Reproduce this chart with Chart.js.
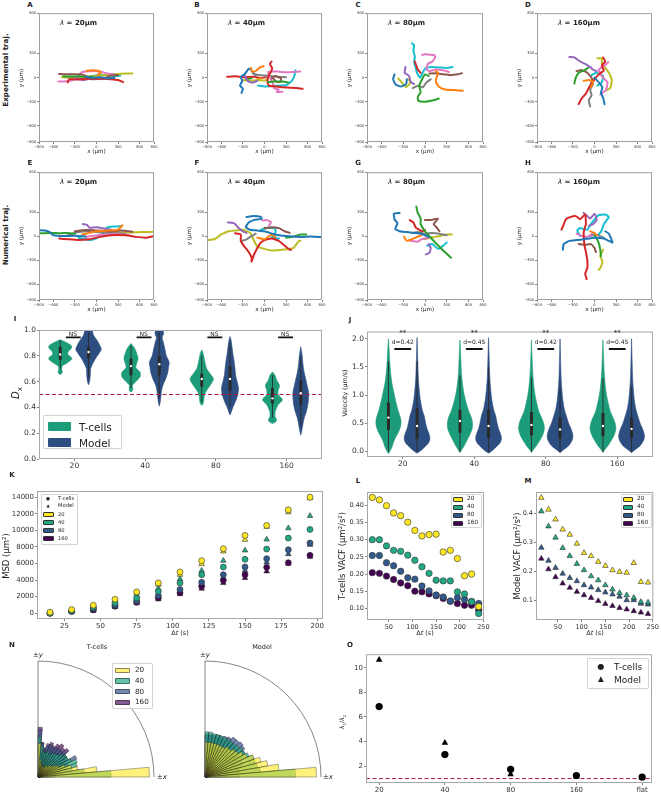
<!DOCTYPE html>
<html>
<head>
<meta charset="utf-8">
<script src="https://cdn.jsdelivr.net/npm/chart.js@4.4.1/dist/chart.umd.min.js"></script>
<style>
body { margin: 0; width: 661px; height: 792px; overflow: hidden; background: #fff; position: relative; font-family: 'DejaVu Sans', sans-serif; color: #222; }
.c { position: absolute; }
.t { position: absolute; white-space: nowrap; line-height: 1; }
</style>
</head>
<body>
<script>
// ---- trajectories (um), one list per panel, colours follow tab10 order ----
const trajXTicks = [-800, -600, -300, 0, 300, 600, 800];
const trajYTicks = [-800, -600, -300, 0, 300, 800];

const trajA = [
  [[-150,10],[-50,-5],[60,5],[150,-10],[250,-5]],
  [[-140,85],[-60,90],[40,80],[60,60],[20,40]],
  [[-460,15],[-350,12],[-230,18],[-150,5],[-60,15]],
  [[-400,-60],[-380,-20],[-250,-25],[-100,-15],[50,-10],[200,-20],[300,-30],[370,-55]],
  [[-280,-5],[-180,-30],[-80,-10],[20,0],[80,-20]],
  [[-520,45],[-420,40],[-300,42],[-200,38],[-150,20],[-60,-15],[100,-10],[200,25],[300,30]],
  [[-530,-50],[-420,-45],[-330,-30],[-250,30],[-200,70],[-80,80],[50,75],[150,50],[250,40]],
  [[-350,-15],[-200,-10],[-50,-20],[100,-15],[200,-5]],
  [[-480,5],[-350,0],[-200,10],[0,20],[150,35],[300,45],[400,50],[500,52]],
  [[-50,20],[50,35],[150,30],[250,20],[330,25]]
];
const trajB = [
  [[-320,-190],[-300,-140],[-340,-100],[-310,-40],[-330,10],[-280,40],[-220,110]],
  [[-190,120],[-170,70],[-110,90],[-60,130],[-10,140]],
  [[50,-55],[150,-50],[250,-50],[330,-60]],
  [[100,200],[75,170],[105,120],[90,70],[60,30],[40,-50],[60,-100],[150,-110],[250,-120],[350,-125],[450,-130],[530,-140]],
  [[-280,40],[-260,-10],[-220,-50],[-150,-60],[-100,-40]],
  [[100,-10],[150,20],[230,-10],[220,-55],[160,-50],[130,-20]],
  [[500,75],[400,70],[300,65],[180,75],[50,70],[80,0],[120,-80],[130,-130],[200,-150],[170,-180],[250,-175]],
  [[-150,40],[-50,30],[80,20],[200,10],[300,5]],
  [[-300,-30],[-200,-40],[-100,-30],[0,-35],[50,-20]],
  [[-90,-100],[0,-110],[100,-105],[200,-100],[300,-95],[380,-40],[415,20],[430,90]],
  [[-200,110],[-160,60],[-120,30]],
  [[-100,-20],[-40,-10]],
  [[-250,-20],[-180,-10]],
  [[-520,10],[-400,15],[-300,5],[-150,10],[-50,-5],[20,5]]
];
const trajC = [
  [[-250,-20],[-260,-80],[-330,-110],[-400,-90],[-440,-20],[-420,40]],
  [[150,80],[180,60],[150,-30],[170,-90],[220,-130],[300,-150],[400,-155],[520,-165]],
  [[190,-260],[100,-285],[0,-300],[-90,-290],[-100,-240],[-60,-180],[-80,-100],[-40,-20],[0,40],[50,20]],
  [[-140,200],[-120,150],[-100,100],[-60,60]],
  [[-270,130],[-280,60],[-220,20],[-200,-50],[-150,-80]],
  [[60,50],[150,55],[250,40],[350,30],[450,40],[510,55]],
  [[-40,280],[0,290],[60,285],[130,280],[140,250],[100,200],[40,170],[20,100],[60,80],[150,100],[250,90],[330,70]],
  [[-170,-130],[-100,-100],[-30,-120],[20,-60],[80,-20]],
  [[-370,-10],[-320,-60],[-260,-120],[-200,-60],[-230,-20]],
  [[-180,425],[-150,400],[-160,330],[-140,260],[-150,190],[-130,130],[-110,60],[-70,0],[0,110],[100,130],[200,125],[300,120],[380,130]]
];
const trajD = [
  [[140,-330],[120,-250],[90,-190],[110,-120],[60,-60],[0,0]],
  [[-150,-40],[-80,-30],[-20,-50],[-50,-120]],
  [[-280,-75],[-260,0],[-220,60],[-140,90],[-90,120]],
  [[-220,-330],[-180,-260],[-120,-200],[-80,-130],[-40,-80],[0,-20],[60,40],[130,90],[100,150],[150,200],[120,250]],
  [[-350,255],[-280,250],[-200,200],[-130,170],[-60,130],[-20,100],[30,80]],
  [[-250,80],[-180,95],[-100,60],[-30,-20],[-60,-100]],
  [[190,190],[140,150],[60,100],[100,20],[180,-60],[160,-150],[80,-210]],
  [[-60,-360],[-80,-280],[-40,-220],[-60,-150],[-20,-80]],
  [[40,240],[110,235],[100,180],[150,120],[200,60],[240,-30],[220,-130],[160,-160]],
  [[-40,30],[20,60],[120,20],[100,-60],[40,-100]]
];
const trajE = [
  [[-800,75],[-720,70],[-650,50],[-600,10],[-450,0],[-300,5],[-150,-5]],
  [[-200,20],[-100,40],[0,60],[150,70],[300,80],[360,135]],
  [[-780,35],[-650,40],[-500,35],[-400,40],[-300,30]],
  [[-520,-30],[-400,-40],[-250,-50],[-100,-40],[50,-10],[200,10],[400,10],[550,-10],[680,-20],[800,0]],
  [[-190,150],[-130,140],[-100,105],[0,110],[100,95],[200,80]],
  [[-300,60],[-150,75],[0,70],[200,60],[350,70],[500,55]],
  [[-150,-10],[0,10],[150,20],[300,25],[450,15]],
  [[-400,10],[-250,50],[-100,60],[50,45],[200,40],[400,30]],
  [[50,55],[250,50],[450,45],[650,50],[800,55]],
  [[-250,-20],[-100,-50],[0,-30],[100,40],[150,110],[250,120],[350,125]]
];
const trajF = [
  [[800,-15],[650,-5],[500,-10],[300,0],[150,20],[0,60],[-100,70],[-200,80],[-260,110],[-220,170],[-150,200],[-40,215],[-50,240],[-150,250],[-250,240]],
  [[-100,-20],[0,-40],[100,20],[150,-10]],
  [[300,-20],[400,-10],[500,20],[580,20]],
  [[-410,35],[-330,20],[-330,-60],[-280,-130],[-220,-200],[-180,-270],[-180,-320],[-150,-240],[-100,-150],[-60,-90],[0,-50],[100,-30],[200,-60],[280,-120],[350,-170],[370,-170]],
  [[-510,170],[-420,160],[-360,100],[-300,60],[-250,40]],
  [[0,100],[100,110],[200,100],[280,60],[350,40]],
  [[-30,195],[40,200],[90,170],[60,130]],
  [[-310,-60],[-250,-40],[-200,-10],[-120,30]],
  [[-800,-50],[-700,-40],[-600,20],[-500,60],[-400,70],[-300,80],[-200,40],[-150,-50],[-100,-130],[0,-160],[100,-180],[250,-170],[400,-150],[480,-60],[500,-60]],
  [[-50,80],[50,100],[150,95],[150,40],[100,-20],[200,-30]]
];
const trajG = [
  [[-350,290],[-430,280],[-420,210],[-380,160],[-410,90],[-350,60],[-250,50],[-150,40],[-50,30],[50,-10]],
  [[-290,-10],[-250,-60],[-180,-40],[-130,-20],[-50,10]],
  [[-120,370],[-100,290],[-60,220],[-60,150],[0,60],[60,0],[150,-90],[250,-180],[360,-270]],
  [[-210,200],[-160,170],[-130,110],[-80,80],[-40,60],[0,80]],
  [[10,-230],[60,-210],[80,-150],[50,-100]],
  [[0,200],[100,205],[180,220],[120,150],[160,110],[200,60]],
  [[-200,-60],[-100,-70],[-50,-40],[50,-20]],
  [[-170,40],[-100,50],[0,30],[100,40],[200,30],[300,10]],
  [[-20,-40],[80,-20],[200,0],[300,20],[370,20]],
  [[30,-120],[100,-100],[180,-160],[250,-120],[300,-80]]
];
const trajH = [
  [[-440,-170],[-430,-100],[-350,-60],[-250,-50],[-150,-40],[0,-20],[130,-30],[200,-60],[250,-80],[200,30],[150,60]],
  [[-60,60],[0,40],[30,10]],
  [[90,-250],[80,-170],[60,-90],[30,-30],[0,0]],
  [[-460,80],[-430,140],[-400,210],[-330,240],[-260,250],[-200,210],[-130,270],[-120,150],[-150,50],[-140,-110],[-120,-200],[-100,-300],[-100,-400],[-130,-470],[-110,-540]],
  [[-150,290],[-100,250],[-60,220],[0,280],[30,200],[-20,150],[-80,130]],
  [[-220,-100],[-120,-110],[-50,-100],[0,-150],[20,-200]],
  [[-250,30],[-170,0],[-100,-10],[-30,30]],
  [[-60,0],[0,20],[80,0],[130,-20]],
  [[120,-170],[80,-250],[110,-320],[80,-400],[60,-420]],
  [[-200,0],[-240,70],[-200,100],[-100,80],[-50,150],[50,260],[150,270],[200,240],[130,150],[100,70],[60,20]]
];

// ---- violins: [value, half width] from bottom to top; box: [lo, q1, median, q3, hi] ----
const groups = ['20', '40', '80', '160'];
const dxTcells = [
  [[0.655,0],[0.665,0.025],[0.68,0.03],[0.695,0.02],[0.72,0.03],[0.75,0.11],[0.78,0.165],[0.81,0.11],[0.83,0.11],[0.86,0.16],[0.88,0.155],[0.905,0.08],[0.925,0]],
  [[0.52,0],[0.53,0.02],[0.55,0.025],[0.57,0.02],[0.6,0.07],[0.64,0.13],[0.67,0.13],[0.71,0.07],[0.74,0.08],[0.78,0.1],[0.82,0.08],[0.86,0.05],[0.895,0]],
  [[0.415,0],[0.43,0.02],[0.46,0.03],[0.5,0.04],[0.54,0.08],[0.58,0.13],[0.62,0.165],[0.66,0.12],[0.7,0.07],[0.74,0.05],[0.78,0.035],[0.82,0.02],[0.845,0]],
  [[0.275,0],[0.29,0.05],[0.31,0.055],[0.33,0.035],[0.37,0.04],[0.42,0.08],[0.46,0.14],[0.5,0.08],[0.53,0.08],[0.57,0.1],[0.61,0.06],[0.65,0.035],[0.675,0]]
];
const dxModel = [
  [[0.575,0],[0.6,0.015],[0.65,0.025],[0.7,0.03],[0.74,0.06],[0.78,0.1],[0.82,0.15],[0.85,0.18],[0.88,0.16],[0.92,0.12],[0.96,0.07],[0.98,0.06],[1.0,0.05],[1.03,0]],
  [[0.41,0],[0.43,0.01],[0.47,0.02],[0.52,0.03],[0.57,0.05],[0.62,0.09],[0.67,0.12],[0.71,0.13],[0.75,0.14],[0.8,0.1],[0.85,0.08],[0.9,0.06],[0.94,0.04],[0.97,0.06],[1.0,0.05],[1.03,0]],
  [[0.34,0],[0.36,0.015],[0.4,0.04],[0.45,0.08],[0.5,0.11],[0.55,0.12],[0.6,0.1],[0.65,0.08],[0.7,0.07],[0.75,0.06],[0.8,0.045],[0.86,0.03],[0.92,0.015],[0.95,0]],
  [[0.185,0],[0.22,0.015],[0.27,0.03],[0.32,0.05],[0.37,0.08],[0.42,0.1],[0.47,0.11],[0.52,0.11],[0.57,0.09],[0.62,0.07],[0.68,0.045],[0.74,0.03],[0.8,0.02],[0.87,0]]
];
const dxTcellsBox = [[0.70,0.77,0.81,0.87,0.92],[0.55,0.65,0.72,0.78,0.88],[0.44,0.56,0.62,0.66,0.8],[0.32,0.43,0.47,0.55,0.65]];
const dxModelBox = [[0.63,0.78,0.83,0.87,0.98],[0.47,0.65,0.735,0.8,0.98],[0.4,0.53,0.62,0.72,0.9],[0.25,0.42,0.51,0.61,0.79]];
const dxChance = 0.5;
const nsLevel = 0.943;

const velTcells = [
  [[-0.04,0],[0.0,0.02],[0.08,0.05],[0.16,0.07],[0.25,0.1],[0.34,0.14],[0.45,0.17],[0.55,0.175],[0.65,0.155],[0.75,0.13],[0.9,0.1],[1.05,0.075],[1.2,0.05],[1.4,0.03],[1.6,0.018],[1.8,0.01],[2.0,0]],
  [[-0.02,0],[0.02,0.02],[0.1,0.06],[0.2,0.1],[0.3,0.14],[0.4,0.17],[0.5,0.175],[0.6,0.16],[0.72,0.12],[0.85,0.09],[1.0,0.06],[1.2,0.035],[1.4,0.02],[1.7,0.01],[1.98,0]],
  [[-0.02,0],[0.02,0.02],[0.1,0.07],[0.2,0.12],[0.3,0.16],[0.4,0.18],[0.5,0.17],[0.6,0.14],[0.72,0.1],[0.85,0.075],[1.0,0.05],[1.2,0.03],[1.4,0.018],[1.7,0.008],[1.98,0]],
  [[-0.02,0],[0.02,0.02],[0.1,0.07],[0.2,0.12],[0.3,0.16],[0.4,0.18],[0.5,0.17],[0.6,0.14],[0.72,0.1],[0.85,0.075],[1.0,0.05],[1.2,0.03],[1.4,0.018],[1.7,0.008],[1.98,0]]
];
const velModel = [
  [[-0.03,0],[0.0,0.04],[0.07,0.1],[0.15,0.16],[0.22,0.18],[0.3,0.17],[0.4,0.14],[0.5,0.12],[0.63,0.1],[0.75,0.07],[0.92,0.045],[1.1,0.03],[1.3,0.018],[1.6,0.01],[2.02,0]],
  [[-0.03,0],[0.0,0.04],[0.07,0.1],[0.15,0.16],[0.22,0.18],[0.3,0.17],[0.4,0.14],[0.5,0.12],[0.63,0.1],[0.75,0.07],[0.92,0.045],[1.1,0.03],[1.3,0.018],[1.6,0.01],[2.02,0]],
  [[-0.02,0],[0.02,0.04],[0.1,0.12],[0.2,0.17],[0.28,0.18],[0.38,0.16],[0.5,0.12],[0.62,0.09],[0.75,0.06],[0.9,0.04],[1.1,0.025],[1.3,0.015],[1.6,0.008],[2.0,0]],
  [[-0.02,0],[0.02,0.04],[0.1,0.12],[0.2,0.17],[0.28,0.18],[0.38,0.16],[0.5,0.12],[0.62,0.09],[0.75,0.06],[0.9,0.04],[1.1,0.025],[1.3,0.015],[1.6,0.008],[2.0,0]]
];
const velTcellsBox = [[0,0.38,0.6,0.87,1.6],[-0.01,0.33,0.54,0.74,1.35],[-0.01,0.28,0.47,0.7,1.32],[-0.01,0.27,0.45,0.68,1.3]];
const velModelBox = [[-0.02,0.22,0.45,0.77,1.6],[-0.02,0.24,0.45,0.75,1.5],[-0.02,0.23,0.39,0.6,1.15],[-0.02,0.24,0.4,0.6,1.15]];
const effectSizes = ['d=0.42', 'd=0.45', 'd=0.42', 'd=0.45'];
const sigLevel = 1.82;

// ---- MSD (um^2) vs lag (s) ----
const msdTime = [15, 30, 45, 60, 75, 90, 105, 120, 135, 150, 165, 180, 195];
const msdTcells = [
  [120, 440, 960, 1685, 2570, 3650, 4975, 6340, 7780, 9386, 10590, 12475, 14000],
  [0, 280, 720, 1245, 1845, 2650, 3650, 4650, 5575, 6500, 7740, 9065, 10110],
  [0, 240, 560, 960, 1485, 2125, 2850, 3730, 4650, 5575, 6580, 7660, 8465],
  [0, 200, 400, 840, 1325, 1845, 2450, 3250, 3970, 4650, 5535, 6100, 6980]
];
const msdModel = [
  [0, 320, 840, 1525, 2450, 3450, 4650, 5940, 7460, 8865, 10430, 12195, 13900],
  [40, 360, 840, 1365, 2125, 2970, 4130, 5135, 6340, 7580, 8905, 10270, 11750],
  [0, 220, 480, 880, 1365, 1965, 2650, 3450, 4250, 5135, 6140, 7140, 8265],
  [0, 180, 320, 760, 1205, 1685, 2325, 2970, 3650, 4250, 5055, 5980, 6820]
];

// ---- VACF (um^2/s^2) vs lag (s) ----
const vacfTime = [15, 30, 45, 60, 75, 90, 105, 120, 135, 150, 165, 180, 195, 210, 225, 240];
const vacfTcells = [
  [0.423,0.416,0.399,0.378,0.370,0.351,0.327,0.311,0.315,0.316,0.264,0.269,0.245,0.195,0.200,0.105],
  [0.300,0.300,0.282,0.269,0.266,0.255,0.240,0.221,0.202,0.182,0.180,0.180,0.148,0.142,0.119,0.085],
  [0.254,0.254,0.233,0.224,0.208,0.189,0.185,0.165,0.151,0.139,0.133,0.121,0.131,0.126,0.120,0.114],
  [0.204,0.202,0.194,0.184,0.174,0.166,0.150,0.148,0.142,0.137,0.129,0.121,0.114,0.109,0.109,0.095]
];
const vacfModel = [
  [0.455,0.414,0.380,0.345,0.327,0.296,0.264,0.253,0.233,0.219,0.204,0.198,0.195,0.229,0.163,0.161],
  [0.408,0.356,0.317,0.281,0.253,0.226,0.204,0.183,0.169,0.152,0.137,0.125,0.117,0.108,0.094,0.092],
  [0.282,0.237,0.212,0.192,0.177,0.166,0.152,0.144,0.135,0.127,0.120,0.112,0.100,0.100,0.088,0.085],
  [0.244,0.207,0.180,0.158,0.143,0.129,0.117,0.108,0.097,0.087,0.080,0.073,0.068,0.062,0.057,0.052]
];

// ---- angle histograms, 5 degree bins from +y (first) to +x (last), scaled to max 1 ----
const angleBins = [0, 5, 10, 15, 20, 25, 30, 35, 40, 45, 50, 55, 60, 65, 70, 75, 80, 85];
const binWidth = 5;
const angTcells = [
  [0.29,0.15,0.12,0.1,0.1,0.1,0.1,0.12,0.12,0.14,0.15,0.18,0.2,0.25,0.3,0.35,0.51,0.96],
  [0.35,0.27,0.22,0.22,0.24,0.22,0.24,0.25,0.26,0.28,0.3,0.3,0.32,0.36,0.35,0.3,0.4,0.63],
  [0.41,0.3,0.26,0.28,0.3,0.28,0.3,0.3,0.3,0.32,0.3,0.3,0.37,0.28,0.25,0.2,0.15,0.15],
  [0.43,0.3,0.25,0.3,0.32,0.3,0.33,0.35,0.33,0.35,0.3,0.28,0.25,0.22,0.2,0.15,0.12,0.1]
];
const angModel = [
  [0.3,0.3,0.3,0.3,0.3,0.3,0.3,0.32,0.32,0.34,0.35,0.38,0.4,0.45,0.5,0.55,0.64,0.96],
  [0.39,0.39,0.38,0.38,0.38,0.38,0.38,0.38,0.38,0.39,0.4,0.4,0.42,0.45,0.45,0.46,0.48,0.78],
  [0.37,0.37,0.37,0.38,0.38,0.39,0.4,0.42,0.42,0.43,0.42,0.4,0.38,0.35,0.33,0.3,0.3,0.3],
  [0.36,0.36,0.36,0.36,0.36,0.36,0.37,0.37,0.37,0.36,0.35,0.33,0.3,0.28,0.25,0.22,0.2,0.18]
];

// ---- anisotropy lambda1/lambda2 ----
const ratioGroups = ['20', '40', '80', '160', 'flat'];
const ratioTcells = [6.85, 2.95, 1.75, 1.25, 1.12];
const ratioModel = [10.65, 3.9, 1.35, 1.15, 1.05];

// ---- styling ----
const tab10 = ['#1f77b4','#ff7f0e','#2ca02c','#d62728','#9467bd','#8c564b','#e377c2','#7f7f7f','#bcbd22','#17becf'];
const lamColors = ['#fde725', '#22a884', '#32598c', '#440154'];
const polarFill = ['rgba(253,231,37,0.6)', 'rgba(34,168,132,0.7)', 'rgba(59,82,139,0.7)', 'rgba(68,1,84,0.65)'];
const cTcells = '#1d9c79';
const cModel = '#2d4e80';
const dashRed = '#b2183c';

Chart.defaults.font.family = "'DejaVu Sans', sans-serif";
Chart.defaults.color = '#333';

// grey box round the plot area, like matplotlib spines
const framePlugin = {
  id: 'frame',
  afterDraw(chart, args, opts) {
    if (!opts.color) return;
    const a = chart.chartArea, ctx = chart.ctx;
    ctx.save();
    ctx.strokeStyle = opts.color;
    ctx.lineWidth = 1;
    ctx.strokeRect(a.left + 0.5, a.top + 0.5, a.right - a.left - 1, a.bottom - a.top - 1);
    ctx.restore();
  }
};
// quarter circle outline for the angle histograms
const quarterPlugin = {
  id: 'quarter',
  afterDraw(chart, args, opts) {
    if (!opts.on) return;
    const s = chart.scales.r, ctx = chart.ctx;
    ctx.save();
    ctx.strokeStyle = '#666';
    ctx.lineWidth = 0.8;
    ctx.beginPath();
    ctx.moveTo(s.xCenter, s.yCenter);
    ctx.lineTo(s.xCenter, s.yCenter - s.drawingArea);
    ctx.arc(s.xCenter, s.yCenter, s.drawingArea, -Math.PI / 2, 0);
    ctx.stroke();
    ctx.restore();
  }
};
Chart.register(framePlugin, quarterPlugin);

function addCanvas(box, pad) {
  const w = Math.round(box[2] - box[0] + pad[0] + pad[2]);
  const h = Math.round(box[3] - box[1] + pad[1] + pad[3]);
  const cv = document.createElement('canvas');
  cv.className = 'c';
  cv.width = w;
  cv.height = h;
  cv.style.left = Math.round(box[0] - pad[0]) + 'px';
  cv.style.top = Math.round(box[1] - pad[1]) + 'px';
  document.body.appendChild(cv);
  return cv;
}

function fmtNum(v) { return v < 0 ? '\u2212' + (-v) : String(v); }

function ticksAxis(min, max, ticks, fmt, size, fit, tickLen) {
  return {
    type: 'linear', min: min, max: max,
    afterBuildTicks: s => { s.ticks = ticks.map(v => ({ value: v })); },
    afterFit: s => { if (s.isHorizontal()) { s.height = fit; } else { s.width = fit; } },
    ticks: { font: { size: size }, color: '#333', padding: 1, autoSkip: false, maxRotation: 0, callback: v => fmt(v) },
    grid: { drawOnChartArea: false, drawTicks: true, tickLength: tickLen, color: '#666', lineWidth: 0.8 },
    border: { display: false }
  };
}

function makeChart(box, pad, type, datasets, scales, frame) {
  const cv = addCanvas(box, pad);
  return new Chart(cv, {
    type: type,
    data: { datasets: datasets },
    options: {
      responsive: false, animation: false, events: [],
      layout: { padding: { left: 0, top: pad[1], right: pad[2], bottom: 0 } },
      plugins: { legend: { display: false }, tooltip: { enabled: false }, frame: { color: frame } },
      scales: scales
    }
  });
}

function trajChart(box, trajs) {
  const pad = [14, 3, 8, 9];
  const ds = trajs.map((tr, i) => ({
    data: tr.map(p => ({ x: p[0], y: p[1] })),
    borderColor: tab10[i % 10], borderWidth: 2, pointRadius: 0, tension: 0.15,
    borderCapStyle: 'round', borderJoinStyle: 'round'
  }));
  makeChart(box, pad, 'line', ds, {
    x: ticksAxis(-800, 800, trajXTicks, fmtNum, 3.6, pad[3], 2),
    y: ticksAxis(-800, 800, trajYTicks, fmtNum, 3.6, pad[0], 2)
  }, '#a0a0a0');
}

function outline(profile, cx) {
  const right = profile.map(p => ({ x: cx + p[1], y: p[0] }));
  const left = profile.slice().reverse().map(p => ({ x: cx - p[1], y: p[0] }));
  return right.concat(left);
}

function violinChart(box, pad, yAxis, tcProf, moProf, tcBox, moBox, extra) {
  const ds = [];
  const whisk = [], iqr = [], med = [];
  groups.forEach((g, i) => {
    [[tcProf[i], tcBox[i], i - 0.2, cTcells], [moProf[i], moBox[i], i + 0.2, cModel]].forEach(part => {
      const prof = part[0], st = part[1], cx = part[2], col = part[3];
      ds.push({ data: outline(prof, cx), fill: 'shape', backgroundColor: col, borderColor: col, borderWidth: 0.6, pointRadius: 0, tension: 0.3, order: 3 });
      whisk.push({ x: cx, y: st[0] }, { x: cx, y: st[4] }, { x: cx, y: null });
      iqr.push({ x: cx, y: st[1] }, { x: cx, y: st[3] }, { x: cx, y: null });
      med.push({ x: cx, y: st[2] });
    });
  });
  ds.push({ data: whisk, borderColor: '#2a2a2a', borderWidth: 0.9, pointRadius: 0, order: 2 });
  ds.push({ data: iqr, borderColor: '#2a2a2a', borderWidth: 3, pointRadius: 0, order: 1 });
  ds.push({ data: med, showLine: false, pointRadius: 1.2, pointBackgroundColor: '#fff', pointBorderWidth: 0, order: 0 });
  extra.forEach(e => ds.push(e));
  makeChart(box, pad, 'line', ds, {
    x: ticksAxis(-0.5, 3.5, [0, 1, 2, 3], v => groups[v], 7.5, pad[3], 2),
    y: yAxis
  }, '#a8a8a8');
}

function barSegments(level, lo, hi) {
  const pts = [];
  groups.forEach((g, i) => { pts.push({ x: i + lo, y: level }, { x: i + hi, y: level }, { x: i, y: null }); });
  return pts;
}

function markerSets(xs, rows, style, radius) {
  return rows.map((row, i) => ({
    data: xs.map((t, k) => ({ x: t, y: row[k] })),
    pointStyle: style, pointRadius: radius, backgroundColor: lamColors[i], borderColor: '#333', borderWidth: 0.6
  }));
}

function polarChart(cx, cy, hists) {
  const R = 120;
  const cv = document.createElement('canvas');
  cv.className = 'c';
  cv.width = 2 * R;
  cv.height = 2 * R;
  cv.style.left = (cx - R) + 'px';
  cv.style.top = (cy - R) + 'px';
  document.body.appendChild(cv);
  new Chart(cv, {
    type: 'polarArea',
    data: {
      labels: angleBins,
      datasets: hists.map((h, i) => ({ data: h, angle: binWidth, backgroundColor: polarFill[i], borderColor: 'rgba(25,25,25,0.7)', borderWidth: 0.5 }))
    },
    options: {
      responsive: false, animation: false, events: [],
      layout: { padding: 4 },
      plugins: { legend: { display: false }, tooltip: { enabled: false }, quarter: { on: true } },
      scales: { r: { display: false, min: 0, max: 1, startAngle: 0 } }
    }
  });
}

// ---- text helpers ----
function txt(html, x, y, o) {
  o = o || {};
  const d = document.createElement('div');
  d.className = 't';
  d.innerHTML = html;
  d.style.left = x + 'px';
  d.style.top = y + 'px';
  d.style.fontSize = (o.size || 7) + 'px';
  if (o.bold) d.style.fontWeight = 'bold';
  if (o.color) d.style.color = o.color;
  const ax = o.left ? '0' : '-50%';
  d.style.transform = 'translate(' + ax + ', -50%)' + (o.rot ? ' rotate(-90deg)' : '');
  document.body.appendChild(d);
}
function rect(x, y, w, h, fill, edge) {
  const d = document.createElement('div');
  d.style.cssText = 'position:absolute;box-sizing:border-box;left:' + x + 'px;top:' + y + 'px;width:' + w + 'px;height:' + h + 'px;background:' + fill + ';border:' + (edge ? '1px solid ' + edge : 'none') + ';border-radius:1px';
  document.body.appendChild(d);
}

// ---- rows 1 and 2: trajectories ----
const trajBoxes = [
  [39, 13, 154, 142], [207, 13, 322, 142], [367, 13, 483, 142], [537, 13, 652, 142],
  [39, 172, 154, 300], [207, 172, 322, 300], [367, 172, 483, 300], [537, 172, 652, 300]
];
const trajSets = [trajA, trajB, trajC, trajD, trajE, trajF, trajG, trajH];
const lambdaLabels = ['20', '40', '80', '160', '20', '40', '80', '160'];
const letters = ['A', 'B', 'C', 'D', 'E', 'F', 'G', 'H'];
trajBoxes.forEach((b, i) => trajChart(b, trajSets[i]));

// ---- row 3: Dx and velocity violins ----
const boxI = [39, 330, 322, 459];
violinChart(boxI, [22, 6, 4, 12],
  ticksAxis(0, 1, [0, 0.2, 0.4, 0.6, 0.8, 1.0], v => v.toFixed(1), 7.5, 22, 2),
  dxTcells, dxModel, dxTcellsBox, dxModelBox, [
    { data: [{ x: -0.5, y: dxChance }, { x: 3.5, y: dxChance }], borderColor: dashRed, borderWidth: 1, borderDash: [4, 2.5], pointRadius: 0, order: 0 },
    { data: barSegments(nsLevel, -0.12, 0.09), borderColor: '#111', borderWidth: 1.6, pointRadius: 0, order: 0 }
  ]);

const boxJ = [367, 330, 653, 457];
violinChart(boxJ, [22, 4, 4, 12],
  ticksAxis(-0.1, 2.13, [0, 0.5, 1, 1.5, 2], v => v.toFixed(1), 7.5, 22, 2),
  velTcells, velModel, velTcellsBox, velModelBox, [
    { data: barSegments(sigLevel, -0.117, 0.117), borderColor: '#111', borderWidth: 2, pointRadius: 0, order: 0 }
  ]);

// ---- row 4: MSD and VACF ----
const boxK = [37, 491, 323, 619];
makeChart(boxK, [32, 6, 6, 12], 'scatter',
  markerSets(msdTime, msdTcells, 'circle', 3).concat(markerSets(msdTime, msdModel, 'triangle', 3.2)), {
    x: ticksAxis(6, 204, [25, 50, 75, 100, 125, 150, 175, 200], v => String(v), 7, 12, 2),
    y: ticksAxis(-700, 14750, [0, 2000, 4000, 6000, 8000, 10000, 12000, 14000], v => String(v), 7, 32, 2)
  }, '#a8a8a8');

const boxL = [367, 492, 484, 620];
makeChart(boxL, [24, 5, 8, 12], 'scatter', markerSets(vacfTime, vacfTcells, 'circle', 3.2), {
  x: ticksAxis(3.75, 251.25, [50, 100, 150, 200, 250], v => String(v), 6.5, 12, 2),
  y: ticksAxis(0.066, 0.439, [0.10, 0.15, 0.20, 0.25, 0.30, 0.35, 0.40], v => v.toFixed(2), 6.5, 24, 2)
}, '#a8a8a8');

const boxM = [536, 492, 655, 620];
makeChart(boxM, [18, 5, 5, 12], 'scatter', markerSets(vacfTime, vacfModel, 'triangle', 3.2), {
  x: ticksAxis(3.75, 251.25, [50, 100, 150, 200, 250], v => String(v), 6.5, 12, 2),
  y: ticksAxis(0.031, 0.475, [0.1, 0.2, 0.3, 0.4], v => v.toFixed(1), 6.5, 18, 2)
}, '#a8a8a8');

// ---- row 5: angle histograms and anisotropy ----
polarChart(38, 777, angTcells);
polarChart(205, 777, angModel);

const boxO = [366, 654, 652, 783];
makeChart(boxO, [17, 5, 5, 9], 'scatter', [
  { data: ratioTcells.map((v, i) => ({ x: i, y: v })), pointStyle: 'circle', pointRadius: 3.6, backgroundColor: '#000', borderColor: '#000', borderWidth: 0 },
  { data: ratioModel.map((v, i) => ({ x: i, y: v })), pointStyle: 'triangle', pointRadius: 3.8, backgroundColor: '#000', borderColor: '#000', borderWidth: 0 },
  { data: [{ x: -0.2, y: 1 }, { x: 4.15, y: 1 }], showLine: true, borderColor: dashRed, borderWidth: 1, borderDash: [4, 2.5], pointRadius: 0 }
], {
  x: ticksAxis(-0.2, 4.15, [0, 1, 2, 3, 4], v => ratioGroups[v], 7, 9, 2),
  y: ticksAxis(0.64, 11.1, [2, 4, 6, 8, 10], v => String(v), 7, 17, 2)
}, '#a8a8a8');

// ---- texts ----
txt('Experimental traj.', 6, 70, { size: 7.2, bold: true, rot: true });
txt('Numerical traj.', 6, 235, { size: 7.2, bold: true, rot: true });
const letterPos = [[30, 5], [197, 5], [358, 5], [528, 5], [30, 163], [197, 163], [358, 163], [528, 163]];
trajBoxes.forEach((b, i) => {
  const rowY = i < 4 ? 152 : 310;
  txt(letters[i], letterPos[i][0], letterPos[i][1], { size: 7, bold: true });
  txt('<i style="font-weight:normal">\u03bb</i> = ' + lambdaLabels[i] + '\u03bcm', b[0] + 21, b[1] + 10, { size: 7, bold: true, left: true });
  txt('x (\u03bcm)', (b[0] + b[2]) / 2, rowY, { size: 5.6 });
  txt('y (\u03bcm)', b[0] - 17, (b[1] + b[3]) / 2, { size: 5.6, rot: true });
});

txt('I', 15, 319, { size: 7, bold: true });
txt('<i>D</i><sub style="font-size:7px">x</sub>', 17, 393, { size: 10, rot: true });
groups.forEach((g, i) => txt('NS', boxI[0] + (i + 0.48) * (boxI[2] - boxI[0]) / 4, 333.5, { size: 6 }));
rect(43, 415, 79, 34, 'rgba(255,255,255,0.85)', '#d4d4d4');
rect(48, 422, 23, 9, cTcells);
rect(48, 438, 23, 9, cModel);
txt('T-cells', 79, 426.5, { size: 10.5, left: true });
txt('Model', 79, 442.5, { size: 10.5, left: true });

txt('J', 350, 320, { size: 7, bold: true });
txt('Velocity (\u03bcm/s)', 345, 393, { size: 6.3, rot: true });
groups.forEach((g, i) => {
  const cx = boxJ[0] + (i + 0.5) * (boxJ[2] - boxJ[0]) / 4;
  txt('**', cx, 333, { size: 7 });
  txt(effectSizes[i], cx, 341.5, { size: 6 });
});

txt('K', 12, 475, { size: 7, bold: true });
txt('MSD (\u03bcm\u00b2)', 6, 556, { size: 8.5, rot: true });
txt('\u0394<i>t</i> (s)', 180, 633, { size: 6.5 });
rect(41, 494, 37, 51, 'rgba(255,255,255,0.85)', '#d4d4d4');
txt('\u25cf', 48, 498.5, { size: 4.5 });
txt('\u25b2', 48, 506.3, { size: 4.2 });
txt('T-cells', 58, 498.5, { size: 5.2, left: true });
txt('Model', 58, 506.3, { size: 5.2, left: true });
groups.forEach((g, i) => {
  rect(43, 512 + i * 8, 11, 5, lamColors[i], '#333');
  txt(g, 58, 514.5 + i * 8, { size: 5.2, left: true });
});

txt('L', 358, 481, { size: 7, bold: true });
txt('T-cells VACF (\u03bcm\u00b2/s\u00b2)', 342, 556, { size: 8.5, rot: true });
txt('\u0394<i>t</i> (s)', 425, 633, { size: 6.5 });
txt('M', 528, 481, { size: 7, bold: true });
txt('Model VACF (\u03bcm\u00b2/s\u00b2)', 517, 556, { size: 8.5, rot: true });
txt('\u0394<i>t</i> (s)', 595, 633, { size: 6.5 });
[[451, 494], [621, 494]].forEach(p => {
  rect(p[0], p[1], 31, 34, 'rgba(255,255,255,0.85)', '#d4d4d4');
  groups.forEach((g, i) => {
    rect(p[0] + 2, p[1] + 2.5 + i * 8, 10, 5, lamColors[i], '#333');
    txt(g, p[0] + 16, p[1] + 5 + i * 8, { size: 5.8, left: true });
  });
});

txt('N', 12, 645, { size: 7, bold: true });
txt('T-cells', 97, 647, { size: 6.5 });
txt('Model', 262, 647, { size: 6.5 });
txt('\u00b1<i>y</i>', 38, 655, { size: 7 });
txt('\u00b1<i>x</i>', 162, 777, { size: 7 });
txt('\u00b1<i>y</i>', 205, 655, { size: 7 });
txt('\u00b1<i>x</i>', 328, 777, { size: 7 });
rect(112, 663, 41, 46, 'rgba(255,255,255,0.85)', '#d4d4d4');
groups.forEach((g, i) => {
  rect(115, 667.5 + i * 10.7, 15, 5.5, polarFill[i], 'rgba(25,25,25,0.5)');
  txt(g, 135, 670.3 + i * 10.7, { size: 7.2, left: true });
});

txt('O', 350, 645, { size: 7, bold: true });
txt('<i>\u03bb</i><sub style="font-size:4px">1</sub>/<i>\u03bb</i><sub style="font-size:4px">2</sub>', 343, 722, { size: 6, rot: true });
rect(587, 658, 62, 31, 'rgba(255,255,255,0.85)', '#d4d4d4');
txt('\u25cf', 601, 667.3, { size: 8 });
txt('\u25b2', 601, 679, { size: 7.5 });
txt('T-cells', 614, 667.3, { size: 9, left: true });
txt('Model', 614, 679.5, { size: 9, left: true });
</script>
</body>
</html>
